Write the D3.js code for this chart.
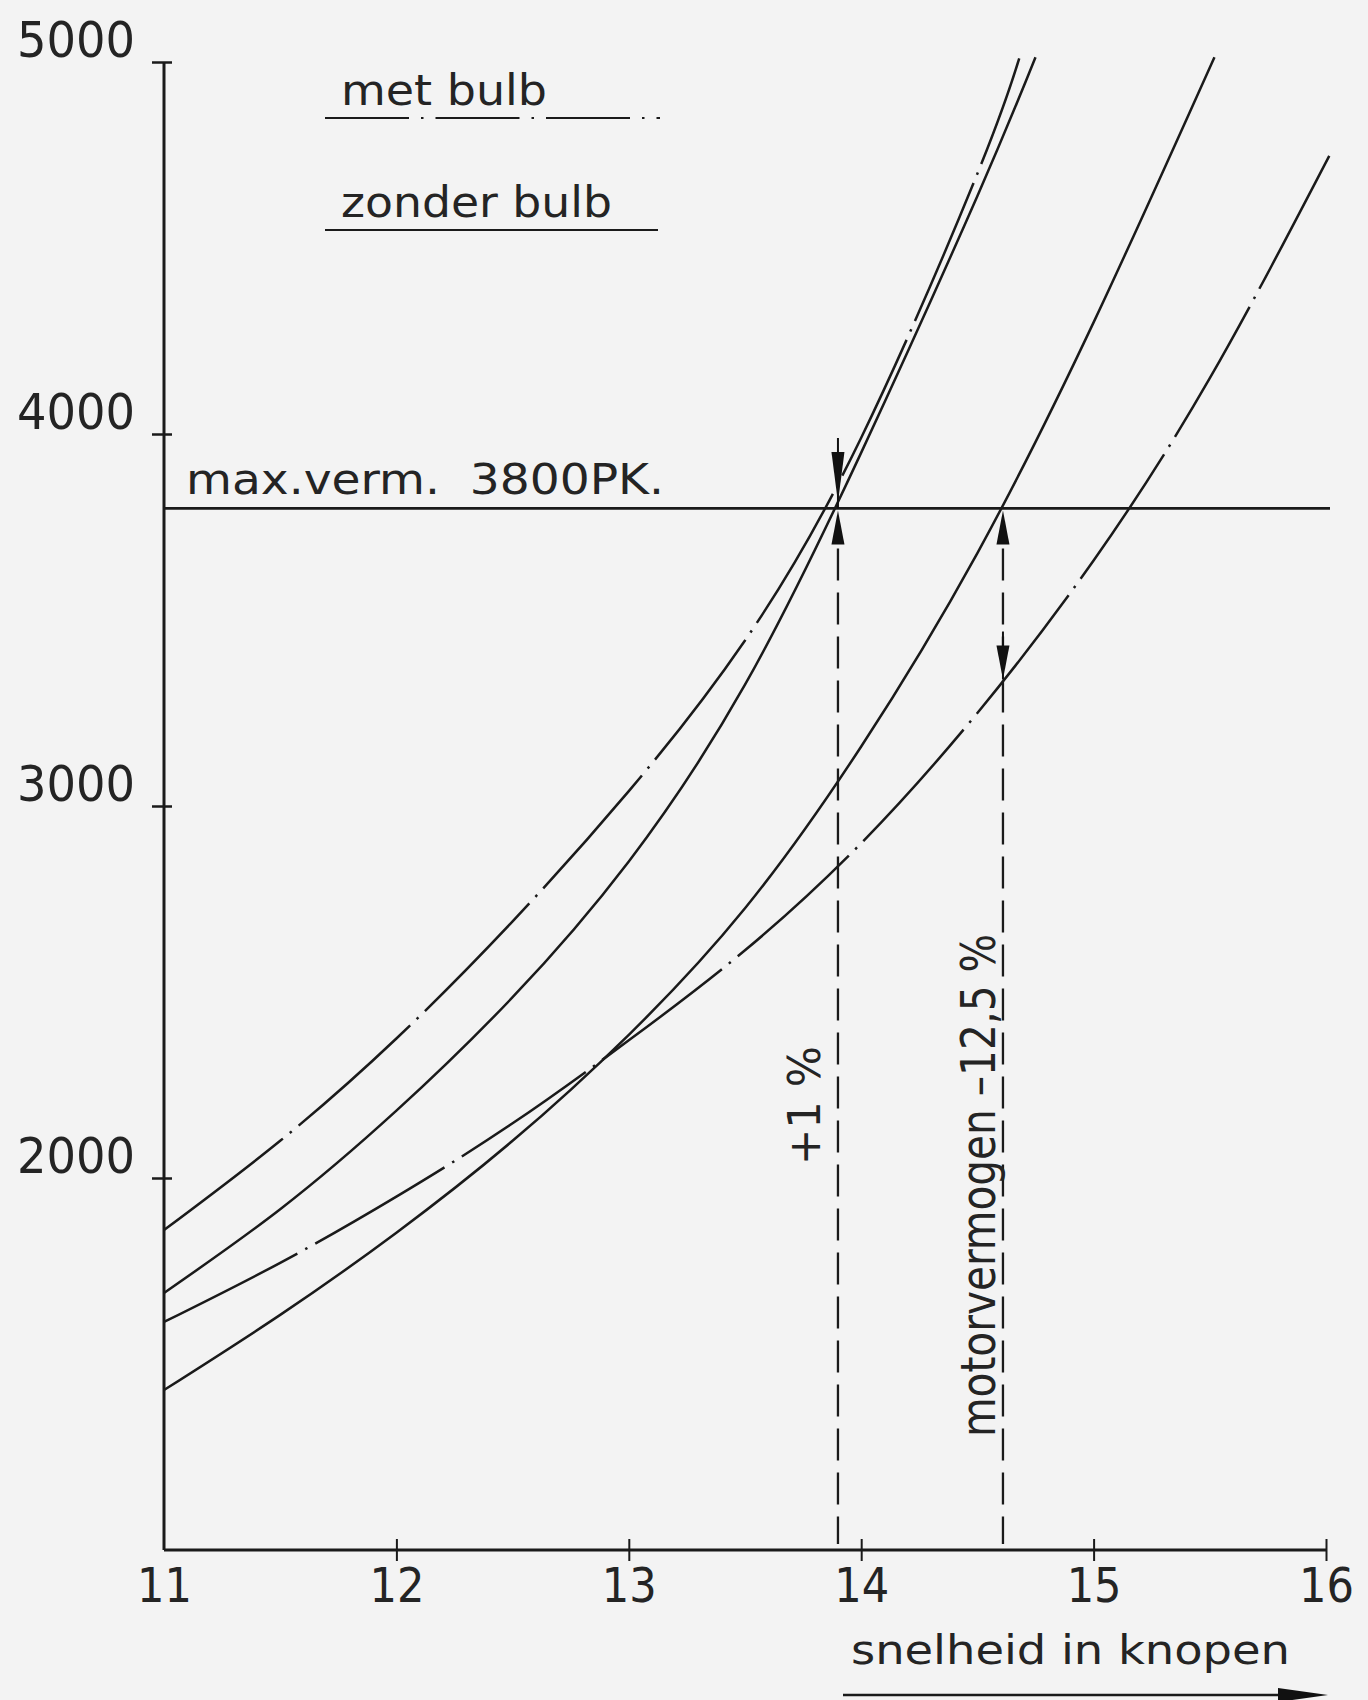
<!DOCTYPE html>
<html><head><meta charset="utf-8">
<script src="https://cdn.jsdelivr.net/npm/d3@7"></script>
<style>
html,body{margin:0;padding:0;background:#f3f3f3;}
svg{display:block;}
text{font-family:"DejaVu Sans Condensed","Liberation Sans Narrow","DejaVu Sans",sans-serif;fill:#242424;}
</style></head>
<body><svg id="c" width="1368" height="1700"></svg>
<script>
// ---- data ----
const speedTicks = [11, 12, 13, 14, 15, 16];
const powerTicks = [2000, 3000, 4000, 5000];

// met bulb (dash-dot), upper pair
const metBulbASpeed = [11, 11.5, 12, 12.5, 13, 13.5, 14, 14.5, 14.68];
const metBulbAPower = [1860, 2100, 2375, 2690, 3040, 3445, 3990, 4700, 5010];
// zonder bulb (solid), upper pair
const zonderBulbASpeed = [11, 11.5, 12, 12.5, 13, 13.5, 14, 14.5, 14.75];
const zonderBulbAPower = [1691, 1916, 2181, 2486, 2851, 3326, 3950, 4640, 5013];
// zonder bulb (solid), lower pair
const zonderBulbBSpeed = [11, 11.5, 12, 12.5, 13, 13.5, 14, 14.5, 15, 15.52];
const zonderBulbBPower = [1430, 1632, 1853, 2100, 2385, 2725, 3160, 3680, 4300, 5013];
// met bulb (dash-dot), lower pair
const metBulbBSpeed = [11, 11.5, 12, 12.5, 13, 13.5, 14, 14.5, 15, 15.5, 16.02];
const metBulbBPower = [1613, 1772, 1950, 2147, 2370, 2612, 2900, 3250, 3660, 4150, 4755];

const maxPower = 3800;
const crossingSpeeds = [13.9, 14.61];
const downArrowPower = [3800, 3340];

const labels = {
  met: "met bulb",
  zonder: "zonder bulb",
  max: "max.verm.\u00a0\u00a03800PK.",
  plus: "+1 %",
  motor: "motorvermogen \u201312,5 %",
  xTitle: "snelheid in knopen"
};

// ---- drawing ----
const svg = d3.select("#c");
const ink = "#1a1a1a";
const x = d3.scaleLinear().domain([11, 16]).range([164, 1326]);
const y = d3.scaleLinear().domain([1000, 5000]).range([1550, 62]);

// y axis
const yAx = svg.append("g").attr("transform", `translate(${x(11)},0)`)
  .call(d3.axisLeft(y).tickValues(powerTicks).tickFormat(d3.format("d")).tickSizeOuter(0).tickSizeInner(11));
yAx.select(".domain").attr("stroke", ink).attr("stroke-width", 3)
  .attr("d", `M0,${y(1000)}V${y(5000)}`);
yAx.selectAll(".tick line").attr("stroke", ink).attr("stroke-width", 2.5).attr("x1", 8).attr("x2", -12);
yAx.selectAll(".tick text").attr("x", -29).attr("dy", -6).attr("font-size", 50)
  .attr("textLength", 118).attr("lengthAdjust", "spacingAndGlyphs")
  .attr("font-family", null).style("fill", "#242424");

// x axis
const xAx = svg.append("g").attr("transform", `translate(0,${y(1000)})`)
  .call(d3.axisBottom(x).tickValues(speedTicks).tickFormat(d3.format("d")).tickSizeOuter(0).tickSizeInner(11));
xAx.select(".domain").attr("stroke", ink).attr("stroke-width", 3)
  .attr("d", `M${x(11)},0H${x(16)}`);
xAx.selectAll(".tick line").attr("stroke", ink).attr("stroke-width", 2).attr("y1", -11).attr("y2", 11)
  .attr("display", d => d === 11 ? "none" : null);
xAx.selectAll(".tick text").attr("y", 52).attr("dy", 0).attr("font-size", 48)
  .attr("font-family", null).style("fill", "#242424");

// curves
const line = d3.line().x(d => x(d[0])).y(d => y(d[1])).curve(d3.curveNatural);
const zip = (a, b) => a.map((v, i) => [v, b[i]]);
const series = [
  {s: metBulbASpeed, p: metBulbAPower, dash: "150,9,2.5,9"},
  {s: zonderBulbASpeed, p: zonderBulbAPower, dash: null},
  {s: zonderBulbBSpeed, p: zonderBulbBPower, dash: null},
  {s: metBulbBSpeed, p: metBulbBPower, dash: "150,9,2.5,9"}
];
svg.append("g").selectAll("path").data(series).join("path")
  .attr("d", d => line(zip(d.s, d.p)))
  .attr("fill", "none").attr("stroke", ink).attr("stroke-width", 2.5)
  .attr("stroke-dasharray", d => d.dash);

// max power line
svg.append("line").attr("x1", x(11)).attr("x2", x(16) + 4)
  .attr("y1", y(maxPower)).attr("y2", y(maxPower))
  .attr("stroke", ink).attr("stroke-width", 2.6);
svg.append("text").attr("x", 186).attr("y", y(maxPower) - 14).attr("font-size", 42)
  .attr("textLength", 478).attr("lengthAdjust", "spacingAndGlyphs").text(labels.max);

// dashed verticals
svg.append("g").selectAll("line").data(crossingSpeeds).join("line")
  .attr("x1", d => x(d)).attr("x2", d => x(d))
  .attr("y1", y(maxPower) + 40).attr("y2", y(1000) - 6)
  .attr("stroke", ink).attr("stroke-width", 2.3).attr("stroke-dasharray", "32,12");

// arrows
const arrows = svg.append("g").attr("fill", "#111").attr("stroke", "#111");
crossingSpeeds.forEach(s => {
  const cx = x(s), ty = y(maxPower) + 2;
  arrows.append("path").attr("stroke", "none")
    .attr("d", `M${cx},${ty}L${cx + 6.5},${ty + 34}L${cx - 6.5},${ty + 34}Z`);
});
{
  const cx = x(crossingSpeeds[0]);
  arrows.append("line").attr("x1", cx).attr("x2", cx).attr("y1", 438).attr("y2", y(maxPower)).attr("stroke-width", 2);
  arrows.append("path").attr("stroke", "none")
    .attr("d", `M${cx - 6.5},${452}L${cx + 6.5},${452}L${cx},${y(downArrowPower[0]) - 6}Z`);
}
{
  const cx = x(crossingSpeeds[1]);
  const tip = y(downArrowPower[1]);
  arrows.append("line").attr("x1", cx).attr("x2", cx).attr("y1", tip - 48).attr("y2", tip).attr("stroke-width", 2);
  arrows.append("path").attr("stroke", "none")
    .attr("d", `M${cx - 6.5},${tip - 34}L${cx + 6.5},${tip - 34}L${cx},${tip}Z`);
}

// rotated annotations
svg.append("text").attr("transform", `translate(820,1165) rotate(-90)`)
  .attr("font-size", 45).attr("textLength", 119).attr("lengthAdjust", "spacingAndGlyphs").text(labels.plus);
svg.append("text").attr("transform", `translate(995,1437) rotate(-90)`)
  .attr("font-size", 48).attr("textLength", 503).attr("lengthAdjust", "spacingAndGlyphs").text(labels.motor);

// legend
svg.append("text").attr("x", 341).attr("y", 105).attr("font-size", 42)
  .attr("textLength", 206).attr("lengthAdjust", "spacingAndGlyphs").text(labels.met);
svg.append("line").attr("x1", 325).attr("x2", 660).attr("y1", 118).attr("y2", 118)
  .attr("stroke", ink).attr("stroke-width", 2.2).attr("stroke-dasharray", "84,12,2.5,12");
svg.append("text").attr("x", 341).attr("y", 217).attr("font-size", 42)
  .attr("textLength", 271).attr("lengthAdjust", "spacingAndGlyphs").text(labels.zonder);
svg.append("line").attr("x1", 325).attr("x2", 658).attr("y1", 230).attr("y2", 230)
  .attr("stroke", ink).attr("stroke-width", 2.2);

// x title with arrow
svg.append("text").attr("x", 851).attr("y", 1664).attr("font-size", 40)
  .attr("textLength", 439).attr("lengthAdjust", "spacingAndGlyphs").text(labels.xTitle);
svg.append("line").attr("x1", 843).attr("x2", 1290).attr("y1", 1695).attr("y2", 1695)
  .attr("stroke", ink).attr("stroke-width", 2.6);
svg.append("path").attr("fill", "#111")
  .attr("d", "M1278,1688L1328,1695L1278,1702Z");
</script>
</body></html>
